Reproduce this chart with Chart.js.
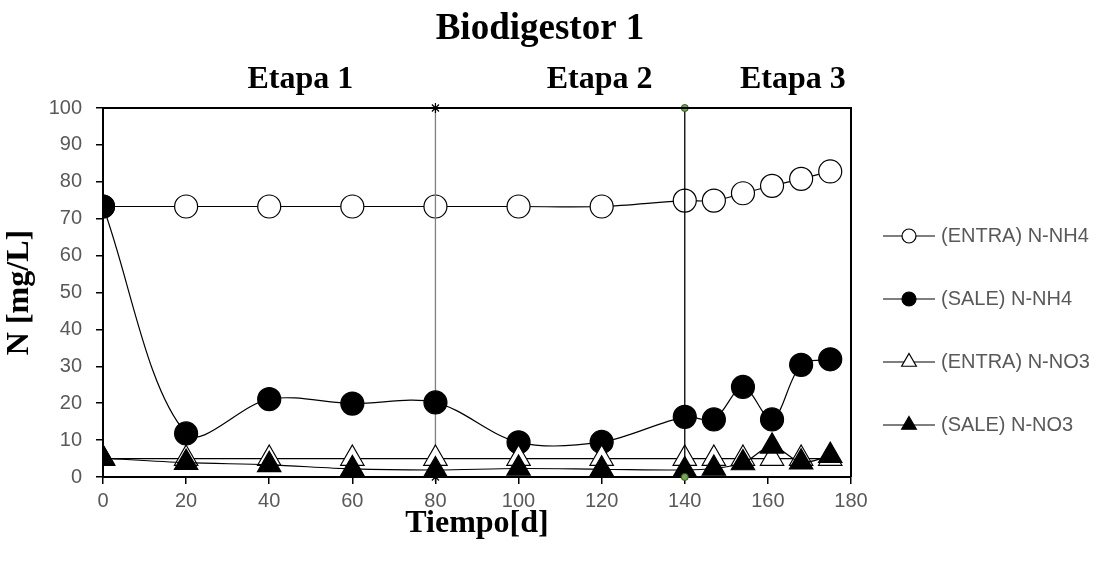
<!DOCTYPE html>
<html>
<head>
<meta charset="utf-8">
<script src="https://cdn.jsdelivr.net/npm/chart.js@4.4.1/dist/chart.umd.min.js"></script>
<style>
  html, body { margin: 0; padding: 0; background: #fff; }
</style>
</head>
<body>
<canvas id="chart" width="1097" height="565"></canvas>
<script>
// days of sampling and measured values (mg/L)
const days = [0, 20, 40, 60, 80, 100, 120, 140, 147, 154, 161, 168, 175];
const entraNH4 = [73.3, 73.3, 73.3, 73.3, 73.3, 73.3, 73.3, 74.9, 74.9, 76.9, 78.9, 80.8, 82.8];
const saleNH4 = [73.3, 11.8, 21.1, 19.9, 20.2, 9.4, 9.5, 16.3, 15.6, 24.4, 15.6, 30.4, 31.9];
const entraNO3 = [5.0, 5.0, 5.0, 5.0, 5.0, 5.0, 5.0, 5.0, 5.0, 5.0, 5.0, 5.0, 5.0];
const saleNO3 = [5.1, 3.9, 3.3, 2.2, 1.9, 2.3, 2.1, 1.9, 2.3, 3.8, 8.3, 4.0, 5.8];

// stage limits (vertical lines) and stage labels
const stageLimits = [80, 140];
const stageLabels = ['Etapa 1', 'Etapa 2', 'Etapa 3'];
const stageLabelDays = [47.5, 119.5, 166];

const seriesNames = ['(ENTRA) N-NH4', '(SALE) N-NH4', '(ENTRA) N-NO3', '(SALE) N-NO3'];

const pts = vals => vals.map((v, i) => ({ x: days[i], y: v }));

const datasets = [
  {
    label: seriesNames[0], data: pts(entraNH4), order: 6,
    borderColor: '#000', borderWidth: 1.2, tension: 0.33,
    pointStyle: 'circle', pointRadius: 11.5, pointBorderWidth: 1.2,
    pointBackgroundColor: '#fff', pointBorderColor: '#000'
  },
  {
    label: 'lim1', data: [{ x: stageLimits[0], y: 0 }, { x: stageLimits[0], y: 100 }], order: 5,
    borderColor: '#7f7f7f', borderWidth: 1.3, clip: false,
    pointStyle: 'star', pointRadius: 5, pointBorderWidth: 1.2,
    pointBorderColor: '#000', pointBackgroundColor: '#000'
  },
  {
    label: seriesNames[1], data: pts(saleNH4), order: 4,
    borderColor: '#000', borderWidth: 1.2, tension: 0.33,
    pointStyle: 'circle', pointRadius: 11.5, pointBorderWidth: 1.2,
    pointBackgroundColor: '#000', pointBorderColor: '#000'
  },
  {
    label: seriesNames[2], data: pts(entraNO3), order: 3,
    borderColor: '#000', borderWidth: 1.2, tension: 0.33,
    pointStyle: 'triangle', pointRadius: 13.5, pointBorderWidth: 1.2,
    pointBackgroundColor: '#fff', pointBorderColor: '#000'
  },
  {
    label: seriesNames[3], data: pts(saleNO3), order: 2,
    borderColor: '#000', borderWidth: 1.2, tension: 0.33,
    pointStyle: 'triangle', pointRadius: 13.5, pointBorderWidth: 1.2,
    pointBackgroundColor: '#000', pointBorderColor: '#000'
  },
  {
    label: 'lim2', data: [{ x: stageLimits[1], y: 0 }, { x: stageLimits[1], y: 100 }], order: 1,
    borderColor: '#000', borderWidth: 1.3, clip: false,
    pointStyle: 'circle', pointRadius: 3.5, pointBorderWidth: 1,
    pointBorderColor: '#375623', pointBackgroundColor: '#70ad47'
  }
];

// title, stage labels, top/right frame and the legend on the right
const extras = {
  id: 'extras',
  afterDraw(chart) {
    const { ctx, chartArea: a } = chart;
    ctx.save();
    ctx.strokeStyle = '#000';
    ctx.lineWidth = 2;
    ctx.beginPath();
    ctx.moveTo(a.left, a.top);
    ctx.lineTo(a.right, a.top);
    ctx.lineTo(a.right, a.bottom);
    ctx.stroke();

    ctx.fillStyle = '#000';
    ctx.textAlign = 'center';
    ctx.textBaseline = 'middle';
    ctx.font = 'bold 37px "Liberation Serif"';
    ctx.fillText('Biodigestor 1', 540, 29);
    ctx.font = 'bold 32px "Liberation Serif"';
    stageLabels.forEach((t, i) => {
      ctx.fillText(t, chart.scales.x.getPixelForValue(stageLabelDays[i]), 80);
    });

    // legend
    ctx.textAlign = 'left';
    ctx.font = '20px "Liberation Sans"';
    seriesNames.forEach((name, i) => {
      const ds = chart.data.datasets.find(d => d.label === name);
      const y = 236 + i * 63;
      ctx.strokeStyle = '#000';
      ctx.lineWidth = 1.2;
      ctx.beginPath();
      ctx.moveTo(883, y);
      ctx.lineTo(935, y);
      ctx.stroke();
      ctx.fillStyle = ds.pointBackgroundColor;
      ctx.strokeStyle = ds.pointBorderColor;
      const r = ds.pointStyle === 'triangle' ? 8.5 : 7;
      Chart.helpers.drawPoint(ctx, { pointStyle: ds.pointStyle, radius: r, borderWidth: 1.2, rotation: 0 }, 909, y);
      ctx.fillStyle = '#595959';
      ctx.fillText(name, 941, y);
    });
    ctx.restore();
  }
};

const tickFont = { family: 'Liberation Sans', size: 20 };
const axisTitleFont = { family: 'Liberation Serif', size: 32, weight: 'bold' };

new Chart(document.getElementById('chart'), {
  type: 'line',
  data: { datasets },
  options: {
    responsive: false,
    animation: false,
    layout: { padding: { top: 108, right: 246, left: 0, bottom: 0 } },
    plugins: { legend: { display: false }, tooltip: { enabled: false } },
    scales: {
      x: {
        type: 'linear', min: 0, max: 180,
        ticks: { stepSize: 20, color: '#595959', font: tickFont, padding: 5, maxRotation: 0 },
        grid: { drawOnChartArea: false, drawTicks: true, tickLength: 7, color: '#000', lineWidth: 1.5 },
        border: { color: '#000', width: 2 },
        title: { display: true, text: 'Tiempo[d]', color: '#000', font: axisTitleFont, padding: { top: 0, bottom: 22 } },
        afterFit: s => { s.height = 88; }
      },
      y: {
        min: 0, max: 100,
        ticks: { stepSize: 10, color: '#595959', font: tickFont, padding: 14 },
        grid: { drawOnChartArea: false, drawTicks: true, tickLength: 7, color: '#000', lineWidth: 1.5 },
        border: { color: '#000', width: 2 },
        title: { display: true, text: 'N [mg/L]', color: '#000', font: axisTitleFont, padding: { top: 1, bottom: 0 } },
        afterFit: s => { s.width = 103; }
      }
    }
  },
  plugins: [extras]
});
</script>
</body>
</html>
